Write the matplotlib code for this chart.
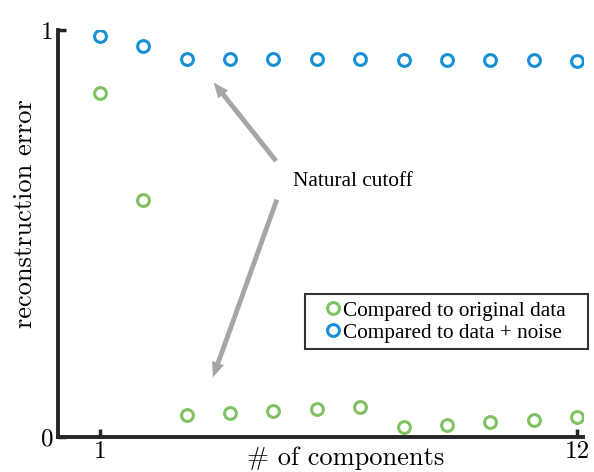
import matplotlib
matplotlib.use('Agg')
import matplotlib.pyplot as plt
import numpy as np

# data
components = np.arange(1, 13)
err_original = [0.845, 0.582, 0.054, 0.059, 0.064, 0.069, 0.074, 0.025, 0.029, 0.037, 0.042, 0.049]
err_noise = [0.985, 0.961, 0.929, 0.929, 0.929, 0.929, 0.929, 0.927, 0.927, 0.927, 0.927, 0.925]

plt.rcParams['font.family'] = ['cmr10', 'DejaVu Serif']
plt.rcParams['axes.formatter.use_mathtext'] = True

green = '#80c262'
blue = '#1690d8'
dark = '#262626'
times = ['Liberation Serif', 'DejaVu Serif']

fig = plt.figure(figsize=(5.94, 4.72), dpi=100)
ax = fig.add_axes([0.0976, 0.0742, 0.8839, 0.8618])

# trailing spaces leave the extra room on the right of the legend box
ax.plot(components, err_original, 'o', ms=8.5, mfc='none', mec=green, mew=2.2,
        label='Compared to original data   ')
ax.plot(components, err_noise, 'o', ms=8.5, mfc='none', mec=blue, mew=2.2,
        label='Compared to data + noise   ')

ax.set_xlim(0.03, 12.14)
ax.set_ylim(0, 1)
ax.set_xticks([1, 12])
ax.set_xticklabels(['1', '12'])
ax.set_yticks([0, 1])
ax.set_yticklabels(['0', '1'])
ax.tick_params(direction='in', length=6, width=2.5, color=dark, labelsize=18, pad=3)

for side in ['top', 'right']:
    ax.spines[side].set_visible(False)
for side in ['left', 'bottom']:
    ax.spines[side].set_linewidth(2.8)
    ax.spines[side].set_color(dark)

ax.set_xlabel('# of components', fontsize=19)
ax.xaxis.set_label_coords(0.547, -0.022)
ax.set_ylabel('reconstruction error', fontsize=19)
ax.yaxis.set_label_coords(-0.04, 0.55)

# annotation with two arrows
ax.text(5.45, 0.629, 'Natural cutoff', fontsize=15.3, va='center', ha='left', family=times)
arrow = dict(arrowstyle='simple,head_width=0.9,head_length=1.1,tail_width=0.35',
             color='#a6a6a6', lw=0)
ax.annotate('', xy=(3.58, 0.877), xytext=(5.1, 0.673), arrowprops=arrow)
ax.annotate('', xy=(3.58, 0.14), xytext=(5.1, 0.59), arrowprops=arrow)

leg = ax.legend(loc='lower right', bbox_to_anchor=(1.01, 0.216),
                prop={'family': times, 'size': 15.3},
                fancybox=False, edgecolor='black', handletextpad=-0.55,
                handlelength=2.03, borderpad=0.3, labelspacing=0.1, borderaxespad=0)
leg.get_frame().set_linewidth(1.5)

fig.savefig('out.png', dpi=100)
